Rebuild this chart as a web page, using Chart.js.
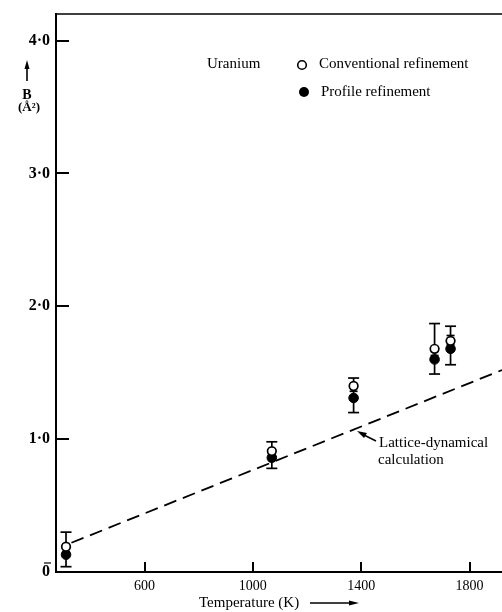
<!DOCTYPE html>
<html>
<head>
<meta charset="utf-8">
<script src="https://cdn.jsdelivr.net/npm/chart.js@4"></script>
<style>
  body { margin: 0; background: #fff; }
</style>
</head>
<body>
<canvas id="uranium" width="502" height="612"></canvas>
<script>
// temperatures (K) of the measurements
var temps = [310, 1070, 1372, 1671, 1730];

// B (Å²), conventional refinement (open circles)
var openB = [0.19, 0.91, 1.40, 1.68, 1.74];
var openErrHi = [0.30, 0.98, 1.46, 1.87, 1.85];
var openErrLo = [0.15, 0.87, 1.36, 1.63, 1.71];

// B (Å²), profile refinement (filled circles)
var filledB = [0.13, 0.86, 1.31, 1.60, 1.68];
var filledErrHi = [0.18, 0.90, 1.41, 1.66, 1.78];
var filledErrLo = [0.04, 0.78, 1.20, 1.49, 1.56];

// lattice-dynamical calculation (straight dashed line)
var latticeT = [330, 1920];
var latticeB = [0.22, 1.52];

// axis ticks
var xTicks = [600, 1000, 1400, 1800];
var yTicks = [0, 1, 2, 3, 4];
var yTickLabels = ["0", "1·0", "2·0", "3·0", "4·0"];

var serif = "'Liberation Serif', 'DejaVu Serif', serif";

function toPoints(xs, ys) {
  return xs.map(function (x, i) { return { x: x, y: ys[i] }; });
}

function capLine(c, x, y, w) {
  c.beginPath();
  c.moveTo(x - w / 2, y);
  c.lineTo(x + w / 2, y);
  c.stroke();
}

// error bars, drawn under the points
var errorBars = {
  id: "errorBars",
  beforeDatasetsDraw: function (chart) {
    var c = chart.ctx, xs = chart.scales.x, ys = chart.scales.y;
    c.save();
    c.strokeStyle = "#000";
    c.lineWidth = 1.7;
    temps.forEach(function (t, i) {
      var px = xs.getPixelForValue(t);
      var top = ys.getPixelForValue(openErrHi[i]);
      var bot = ys.getPixelForValue(filledErrLo[i]);
      c.beginPath();
      c.moveTo(px, top);
      c.lineTo(px, bot);
      c.stroke();
      capLine(c, px, top, 11);
      capLine(c, px, bot, 11);
      capLine(c, px, ys.getPixelForValue(openErrLo[i]), 8);
      capLine(c, px, ys.getPixelForValue(filledErrHi[i]), 8);
    });
    c.restore();
  }
};

// inward ticks, top frame line, axis titles, key and note
var decorations = {
  id: "decorations",
  afterDraw: function (chart) {
    var c = chart.ctx, a = chart.chartArea;
    var xs = chart.scales.x, ys = chart.scales.y;
    c.save();
    c.strokeStyle = "#000";
    c.fillStyle = "#000";

    // top frame
    c.lineWidth = 1.6;
    c.beginPath();
    c.moveTo(a.left - 1, a.top);
    c.lineTo(a.right, a.top);
    c.stroke();

    // ticks pointing inside
    c.lineWidth = 2;
    yTicks.forEach(function (v) {
      if (v === 0) return;
      var py = Math.round(ys.getPixelForValue(v));
      c.beginPath();
      c.moveTo(a.left, py);
      c.lineTo(a.left + 13, py);
      c.stroke();
    });
    xTicks.forEach(function (v) {
      var px = Math.round(xs.getPixelForValue(v));
      c.beginPath();
      c.moveTo(px, a.bottom);
      c.lineTo(px, a.bottom - 10);
      c.stroke();
    });

    // little bar over the 0 label
    c.lineWidth = 1.2;
    c.beginPath();
    c.moveTo(44, a.bottom - 9);
    c.lineTo(51, a.bottom - 9);
    c.stroke();

    // y title: arrow, B, (Å²)
    c.lineWidth = 1.6;
    c.beginPath();
    c.moveTo(27, 81);
    c.lineTo(27, 67);
    c.stroke();
    c.beginPath();
    c.moveTo(27, 60);
    c.lineTo(24.5, 69);
    c.lineTo(29.5, 69);
    c.closePath();
    c.fill();
    c.textAlign = "center";
    c.textBaseline = "middle";
    c.font = "bold 14px " + serif;
    c.fillText("B", 27, 95);
    c.font = "bold 13px " + serif;
    c.fillText("(Å²)", 29, 108);

    // x title with arrow
    c.textAlign = "left";
    c.font = "15px " + serif;
    c.fillText("Temperature (K)", 199, 603);
    c.lineWidth = 1.3;
    c.beginPath();
    c.moveTo(310, 603);
    c.lineTo(352, 603);
    c.stroke();
    c.beginPath();
    c.moveTo(359, 603);
    c.lineTo(349, 600.5);
    c.lineTo(349, 605.5);
    c.closePath();
    c.fill();

    // key
    c.font = "15px " + serif;
    c.fillText("Uranium", 207, 64);
    c.fillText("Conventional refinement", 319, 64);
    c.fillText("Profile refinement", 321, 92);
    c.lineWidth = 1.6;
    c.beginPath();
    c.arc(302, 65, 4.3, 0, Math.PI * 2);
    c.stroke();
    c.beginPath();
    c.arc(304, 92, 5, 0, Math.PI * 2);
    c.fill();

    // note on the calculated line
    c.fillText("Lattice-dynamical", 379, 443);
    c.fillText("calculation", 378, 460);
    c.lineWidth = 1.4;
    c.beginPath();
    c.moveTo(376, 441);
    c.lineTo(364, 435);
    c.stroke();
    c.beginPath();
    c.moveTo(357, 431);
    c.lineTo(367, 433);
    c.lineTo(364, 438);
    c.closePath();
    c.fill();

    c.restore();
  }
};

var ctx = document.getElementById("uranium").getContext("2d");
var chart = new Chart(ctx, {
  type: "scatter",
  data: {
    datasets: [
      {
        label: "Conventional refinement",
        data: toPoints(temps, openB),
        pointStyle: "circle",
        pointRadius: 4.3,
        pointBackgroundColor: "#fff",
        pointBorderColor: "#000",
        pointBorderWidth: 1.7
      },
      {
        label: "Profile refinement",
        data: toPoints(temps, filledB),
        pointStyle: "circle",
        pointRadius: 4.8,
        pointBackgroundColor: "#000",
        pointBorderColor: "#000",
        pointBorderWidth: 1
      },
      {
        type: "line",
        label: "Lattice-dynamical calculation",
        data: toPoints(latticeT, latticeB),
        borderColor: "#000",
        borderWidth: 1.8,
        borderDash: [13, 7],
        pointRadius: 0,
        fill: false
      }
    ]
  },
  options: {
    responsive: false,
    animation: false,
    devicePixelRatio: 1,
    // chart area should run right up to the edge of the picture
    layout: { autoPadding: false, padding: { top: 14, right: 0, bottom: 0, left: 0 } },
    plugins: {
      legend: { display: false },
      tooltip: { enabled: false }
    },
    scales: {
      x: {
        type: "linear",
        min: 273,
        max: 1920,
        afterBuildTicks: function (s) {
          s.ticks = xTicks.map(function (v) { return { value: v }; });
        },
        afterFit: function (s) {
          s.height = 40;
          s.paddingLeft = 0;
          s.paddingRight = 0;
        },
        grid: { display: false, drawTicks: false },
        border: { display: true, color: "#000", width: 2 },
        ticks: {
          padding: 6,
          color: "#000",
          autoSkip: false,
          maxRotation: 0,
          font: { family: serif, size: 14 },
          callback: function (v) { return String(v); }
        }
      },
      y: {
        type: "linear",
        min: 0,
        max: 4.2,
        afterBuildTicks: function (s) {
          s.ticks = yTicks.map(function (v) { return { value: v }; });
        },
        afterFit: function (s) {
          s.width = 56;
          s.paddingTop = 0;
          s.paddingBottom = 0;
        },
        grid: { display: false, drawTicks: false },
        border: { display: true, color: "#000", width: 2 },
        ticks: {
          padding: 6,
          color: "#000",
          autoSkip: false,
          font: { family: serif, size: 16, weight: "bold" },
          callback: function (v) { return yTickLabels[yTicks.indexOf(v)]; }
        }
      }
    }
  },
  plugins: [errorBars, decorations]
});
</script>
</body>
</html>
